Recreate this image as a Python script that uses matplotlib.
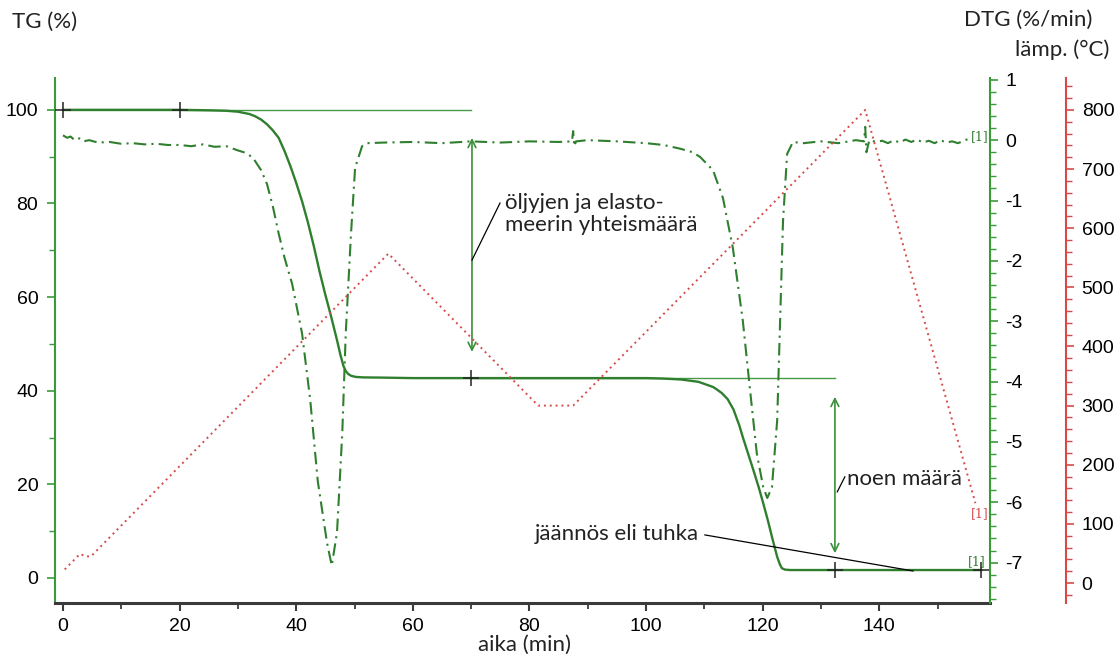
import numpy as np
import matplotlib
matplotlib.use('Agg')
import matplotlib.pyplot as plt
from matplotlib.ticker import MultipleLocator

plt.rcParams['axes.unicode_minus'] = False

# TG curve, mass left (%) vs time (min)
tg_time = [0, 10, 20, 25, 28, 30, 32, 33, 34, 35, 36, 37, 38, 39, 40, 41, 42,
           43, 44, 45, 46, 47, 47.6, 48.1, 48.5, 48.9, 49.4, 50.2, 51.5, 55,
           60, 70, 80, 90, 100, 103, 106, 109, 111.5, 112, 113, 114, 115,
           116, 116.6, 117.5, 118.4, 119.3, 120.1, 120.9, 121.6, 122.1, 122.5,
           123, 123.3, 123.8, 124.7, 130, 140, 150, 157.5]
tg_value = [100, 100, 100, 99.9, 99.8, 99.6, 99.1, 98.6, 97.9, 96.9, 95.6,
            94, 91.2, 88, 84.4, 80.5, 76, 71, 65.5, 60.5, 55.8, 50.8, 47.6,
            45.3, 44.2, 43.6, 43.2, 42.95, 42.85, 42.8, 42.7, 42.7, 42.7,
            42.7, 42.7, 42.6, 42.4, 41.9, 40.8, 40.4, 39.5, 38.2, 36, 32.6,
            30.1, 26.6, 23.1, 19.5, 16, 12.3, 8.8, 6.4, 4.5, 2.8, 2.1, 1.8,
            1.7, 1.7, 1.7, 1.7, 1.7]

# DTG curve (%/min)
dtg_time = [0, 0.7, 1.3, 2, 2.8, 3.5, 4.5, 6, 8, 10, 12, 14, 16, 18, 20, 22, 24,
            26, 28, 30, 31, 32.5, 34, 35, 36, 37, 38, 39.3, 41, 42.4, 43.7, 45.3,
            46.1, 47, 47.9, 48.5, 49.4, 50.1, 51.3, 52.1, 55, 60, 65, 70, 75, 80,
            85, 87.3, 87.5, 87.7, 88, 90, 95, 100, 103, 105.8, 108, 109.3, 111.5,
            113.2, 114.9, 116.6, 117.8, 119, 120.1, 120.8, 121.6, 122.5, 123,
            123.5, 124.2, 125.2, 127, 130, 133, 136, 137.4, 137.6, 137.8, 138.3,
            139.5, 140.5, 141.5, 142.5, 143.5, 144.5, 145.5, 146.5, 147.5, 148.5,
            149.5, 150.5, 151.5, 152.5, 153.5, 154.5, 155.5]
dtg_value = [0.08, 0.04, 0.06, 0.0, 0.03, -0.02, 0.0, -0.04, -0.03, -0.06, -0.05,
             -0.07, -0.06, -0.08, -0.08, -0.1, -0.07, -0.11, -0.1, -0.17, -0.2,
             -0.28, -0.5, -0.73, -1.1, -1.55, -1.95, -2.38, -3.2, -4.3, -5.65,
             -6.68, -7.05, -6.5, -4.86, -3.2, -1.55, -0.46, -0.1, -0.05, -0.04,
             -0.03, -0.05, -0.02, -0.04, -0.02, -0.03, -0.02, 0.15, -0.1, -0.02,
             0.0, -0.02, -0.05, -0.08, -0.14, -0.2, -0.28, -0.5, -0.96, -1.79,
             -2.99, -4.1, -5.19, -5.75, -5.93, -5.75, -4.64, -2.99, -1.34, -0.23,
             -0.03, -0.05, -0.02, -0.05, 0.0, -0.02, 0.22, -0.2, 0.0, -0.03,
             -0.01, -0.05, 0.0, -0.04, 0.01, -0.03, 0.01, -0.04, -0.01, -0.05,
             0.0, -0.04, -0.02, -0.05, -0.01, 0.03]

# furnace temperature program (°C)
temp_time = [0.3, 2.9, 4.0, 4.8, 55.8, 81.5, 87.5, 137.6, 156.5]
temp_value = [23, 49, 45, 45, 557, 300, 300, 800, 135]

# step levels and evaluation points
step_levels = [100, 42.7]
step_ranges = [(0, 70), (70, 132.4)]
mark_time = [0, 20, 70, 132.4, 157.5]
mark_value = [100, 100, 42.7, 1.7, 1.7]

green = '#2f7f2f'
green_axis = '#3a9a3a'
red = '#d84a4a'
txt_font = 'Lato'
tick_font = 'Liberation Sans'

fig = plt.figure(figsize=(11.16, 6.6), dpi=100)
W, H = 1116, 660
ax = fig.add_axes([55 / W, 1 - 603 / H, (990 - 55) / W, (603 - 78) / H])
ax2 = ax.twinx()
ax3 = ax.twinx()

# TG
ax.plot(tg_time, tg_value, color=green, lw=1.7, zorder=3)
for lev, (a, b) in zip(step_levels, step_ranges):
    ax.plot([a, b], [lev, lev], color='#4a9a4a', lw=1.0, zorder=2)
ax.plot(mark_time, mark_value, ls='none', marker='+', ms=11, mew=1.1,
        color='#222222', zorder=4)

ax.set_xlim(-1.37, 159.0)
ax.set_ylim(-5.34, 106.8)
ax.xaxis.set_major_locator(MultipleLocator(20))
ax.xaxis.set_minor_locator(MultipleLocator(10))
ax.yaxis.set_major_locator(MultipleLocator(20))
ax.yaxis.set_minor_locator(MultipleLocator(10))
for s in ['top', 'right']:
    ax.spines[s].set_visible(False)
ax.spines['left'].set_color(green_axis)
ax.spines['left'].set_linewidth(1.5)
ax.spines['bottom'].set_color('#3a3a3a')
ax.spines['bottom'].set_linewidth(2.2)
ax.tick_params(axis='y', which='both', colors=green_axis, labelcolor='black',
               labelsize=14, direction='out')
ax.tick_params(axis='y', which='major', length=6, width=1.2, pad=6)
ax.tick_params(axis='y', which='minor', length=4, width=1.0)
ax.tick_params(axis='x', which='both', colors='#3a3a3a', labelcolor='black',
               labelsize=14, direction='out')
ax.tick_params(axis='x', which='major', length=6, width=1.5, pad=5)
ax.tick_params(axis='x', which='minor', length=4, width=1.3)
for lab in ax.get_xticklabels() + ax.get_yticklabels():
    lab.set_fontfamily(tick_font)

# DTG
ax2.plot(dtg_time, dtg_value, color=green, lw=1.5,
         ls=(0, (6, 2.5, 1, 2.5)), zorder=3)
ax2.set_ylim(-7.67, 1.03)
ax2.yaxis.set_major_locator(MultipleLocator(1))
ax2.yaxis.set_minor_locator(MultipleLocator(0.2))
for s in ['top', 'left', 'bottom']:
    ax2.spines[s].set_visible(False)
ax2.spines['right'].set_color(green_axis)
ax2.spines['right'].set_linewidth(1.5)
ax2.tick_params(axis='y', which='both', colors=green_axis, labelcolor='black',
                labelsize=14)
ax2.tick_params(axis='y', which='major', length=6, width=1.2, pad=5)
ax2.tick_params(axis='y', which='minor', length=4, width=1.0)
for lab in ax2.get_yticklabels():
    lab.set_fontfamily(tick_font)

# temperature
ax3.plot(temp_time, temp_value, color=red, lw=1.4, ls=(0, (1, 2)), zorder=2)
ax3.set_ylim(-33.8, 854)
ax3.yaxis.set_major_locator(MultipleLocator(100))
ax3.yaxis.set_minor_locator(MultipleLocator(20))
for s in ['top', 'left', 'bottom']:
    ax3.spines[s].set_visible(False)
ax3.spines['right'].set_position(('outward', 55))
ax3.spines['right'].set_color(red)
ax3.spines['right'].set_linewidth(1.5)
ax3.tick_params(axis='y', which='both', colors=red, labelcolor='black',
                labelsize=14)
ax3.tick_params(axis='y', which='major', length=6, width=1.2, pad=5)
ax3.tick_params(axis='y', which='minor', length=4, width=1.0)
for lab in ax3.get_yticklabels():
    lab.set_fontfamily(tick_font)

# curve tags
ax2.text(155.7, 0.06, '[1]', color=green, fontsize=9, family='DejaVu Serif',
         ha='left', va='center')
ax.text(155.2, 3.6, '[1]', color=green, fontsize=9, family='DejaVu Serif',
        ha='left', va='center')
ax3.text(155.7, 118, '[1]', color=red, fontsize=9, family='DejaVu Serif',
         ha='left', va='center')

# annotations on the TG scale
arrow_kw = dict(arrowstyle='<->', color='#3a8f3a', lw=1.2, mutation_scale=14,
                shrinkA=0, shrinkB=0)
ax.annotate('', xy=(70.15, 48.3), xytext=(70.15, 94.0), arrowprops=arrow_kw,
            zorder=5)
ax.annotate('', xy=(132.4, 5.3), xytext=(132.4, 38.7), arrowprops=arrow_kw,
            zorder=5)

ax.plot([70.15, 74.96], [67.9, 80.1], color='black', lw=0.9, zorder=5)
ax.text(75.8, 77.8, 'öljyjen ja elasto-\nmeerin yhteismäärä', fontsize=16,
        family=txt_font, color='#222222', ha='left', va='center',
        linespacing=1.15, zorder=6)

ax.plot([132.8, 134.1], [18.4, 21.6], color='black', lw=0.9, zorder=5)
ax.text(134.5, 21.2, 'noen määrä', fontsize=16, family=txt_font,
        color='#222222', ha='left', va='center', zorder=6)

ax.plot([110.1, 145.8], [9.2, 1.5], color='black', lw=0.9, zorder=5)
ax.text(109.0, 9.4, 'jäännös eli tuhka', fontsize=16, family=txt_font,
        color='#222222', ha='right', va='center', zorder=6)

# axis titles
fig.text(12 / W, 1 - 22 / H, 'TG (%)', fontsize=16, family=txt_font,
         color='#222222', ha='left', va='center')
fig.text(1092 / W, 1 - 20 / H, 'DTG (%/min)', fontsize=16, family=txt_font,
         color='#222222', ha='right', va='center')
fig.text(1109 / W, 1 - 50 / H, 'lämp. (°C)', fontsize=16, family=txt_font,
         color='#222222', ha='right', va='center')
fig.text(525 / W, 1 - 645 / H, 'aika (min)', fontsize=16, family=txt_font,
         color='#222222', ha='center', va='center')

fig.savefig('out.png', dpi=100)
